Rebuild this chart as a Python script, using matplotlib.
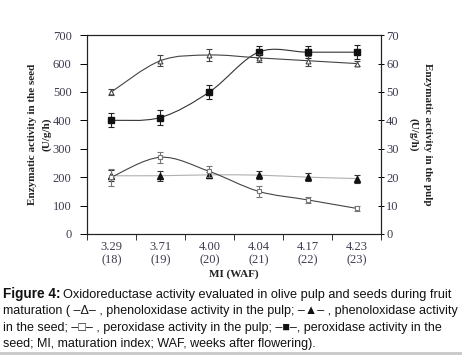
import numpy as np
import matplotlib.pyplot as plt
from matplotlib.path import Path
from matplotlib.patches import PathPatch
from matplotlib.lines import Line2D
from matplotlib.ticker import FixedLocator, NullFormatter

# dados
mi_labels = ["3.29\n(18)", "3.71\n(19)", "4.00\n(20)", "4.04\n(21)", "4.17\n(22)", "4.23\n(23)"]

# polpa (eixo direito, U/g/h)
pheno_pulp = [50, 61, 63, 62, 61, 60]
pheno_pulp_err = [1, 2, 2, 1.5, 1.8, 1]
perox_pulp = [20, 27, 22, 15, 12, 9]
perox_pulp_err = [3, 2, 2, 2, 1, 1]

# semente (eixo esquerdo, U/g/h)
pheno_seed = [205, 205, 208, 207, 200, 195]
pheno_seed_err = [20, 18, 10, 14, 14, 14]
perox_seed = [400, 410, 500, 640, 640, 640]
perox_seed_err = [25, 25, 25, 22, 22, 24]

plt.rcParams["font.family"] = ["Liberation Serif", "DejaVu Serif"]
eixo_cor = "#3c3c50"


def curva(ax, x, y, cor, lw=0.8):
    # linha suavizada (catmull-rom -> bezier)
    x = np.asarray(x, float)
    y = np.asarray(y, float)
    verts = [(x[0], y[0])]
    codes = [Path.MOVETO]
    n = len(x)
    for i in range(n - 1):
        p0 = (x[max(i - 1, 0)], y[max(i - 1, 0)])
        p1 = (x[i], y[i])
        p2 = (x[i + 1], y[i + 1])
        p3 = (x[min(i + 2, n - 1)], y[min(i + 2, n - 1)])
        c1 = (p1[0] + (p2[0] - p0[0]) / 6, p1[1] + (p2[1] - p0[1]) / 6)
        c2 = (p2[0] - (p3[0] - p1[0]) / 6, p2[1] - (p3[1] - p1[1]) / 6)
        verts += [c1, c2, p2]
        codes += [Path.CURVE4] * 3
    ax.add_patch(PathPatch(Path(verts, codes), facecolor="none", edgecolor=cor, lw=lw, zorder=2))


fig = plt.figure(figsize=(4.62, 3.55), dpi=100)
ax = fig.add_axes([0.188, 0.341, 0.637, 0.560])
ax2 = ax.twinx()

x = np.arange(len(mi_labels))

# semente
curva(ax, x, perox_seed, "#333333")
ax.errorbar(x, perox_seed, yerr=perox_seed_err, fmt="s", ms=4, color="#111111",
            ecolor="#222222", elinewidth=0.8, capsize=2.5, capthick=0.8, zorder=4)
curva(ax, x, pheno_seed, "#b0b0b0")
ax.errorbar(x, pheno_seed, yerr=pheno_seed_err, fmt="^", ms=4, color="#111111",
            ecolor="#333333", elinewidth=0.8, capsize=2.5, capthick=0.8, zorder=4)

# polpa
curva(ax2, x, pheno_pulp, "#444444")
ax2.errorbar(x, pheno_pulp, yerr=pheno_pulp_err, fmt="^", ms=3.5, mfc="white", mec="#444444",
             mew=0.8, ecolor="#444444", elinewidth=0.8, capsize=2.5, capthick=0.8, zorder=4)
curva(ax2, x, perox_pulp, "#444444")
ax2.errorbar(x, perox_pulp, yerr=perox_pulp_err, fmt="s", ms=3.5, mfc="white", mec="#777777",
             mew=0.8, ecolor="#777777", elinewidth=0.8, capsize=2.5, capthick=0.8, zorder=4)

ax.set_xlim(-0.5, 5.5)
ax.set_ylim(0, 700)
ax2.set_ylim(0, 70)
ax.set_yticks(range(0, 701, 100))
ax2.set_yticks(range(0, 71, 10))

ax.set_xticks(x)
ax.set_xticklabels(mi_labels, fontsize=9, color=eixo_cor, linespacing=1.2)
ax.tick_params(axis="x", which="major", length=0, pad=5)
ax.xaxis.set_minor_locator(FixedLocator(np.arange(-0.5, 6, 1)))
ax.xaxis.set_minor_formatter(NullFormatter())
ax.tick_params(axis="x", which="minor", length=4, width=0.7, color="#333333")
ax.tick_params(axis="y", labelsize=9, labelcolor=eixo_cor, length=5, width=0.7, pad=6)
ax2.tick_params(axis="y", labelsize=9, labelcolor=eixo_cor, length=5, width=0.7, pad=1,
                direction="inout")

for a in (ax, ax2):
    for s in a.spines.values():
        s.set_linewidth(0.8)
        s.set_color("#222222")

ax.set_ylabel("Enzymatic activity in the seed\n(U/g/h)", fontsize=8, fontweight="bold",
              color="#222222", labelpad=1, linespacing=1.6)
ax2.set_ylabel("Enzymatic activity in the pulp\n(U/g/h)", fontsize=8, fontweight="bold",
               color="#222222", rotation=270, labelpad=24, linespacing=1.6)
ax.set_xlabel("MI (WAF)", fontsize=8, fontweight="bold", color="#222222", labelpad=2)

# legenda da figura
fam = ["Liberation Sans", "DejaVu Sans"]
linhas = [
    "Oxidoreductase activity evaluated in olive pulp and seeds during fruit",
    "maturation ( \u2013\u0394\u2013 , phenoloxidase activity in the pulp; \u2013\u25b2\u2013 , phenoloxidase activity",
    "in the seed; \u2013\u25a1\u2013 , peroxidase activity in the pulp; \u2013\u25a0\u2013, peroxidase activity in the",
    "seed; MI, maturation index; WAF, weeks after flowering).",
]
fig.text(3 / 462, 1 - 298 / 355, "Figure 4:", family=fam, fontsize=9.8, fontweight="bold",
         va="baseline", color="#111111")
fig.text(63 / 462, 1 - 298 / 355, linhas[0], family=fam, fontsize=9.2, va="baseline",
         color="#111111")
for i, linha in enumerate(linhas[1:]):
    fig.text(3 / 462, 1 - (314 + 16.5 * i) / 355, linha, family=fam, fontsize=9,
             va="baseline", color="#111111")

# filete cinza no rodapé
fig.add_artist(Line2D([0, 1], [1 - 353 / 355] * 2, transform=fig.transFigure,
                      color="#c8c8c8", lw=2))

plt.savefig("out.png", dpi=100)
plt.close()
